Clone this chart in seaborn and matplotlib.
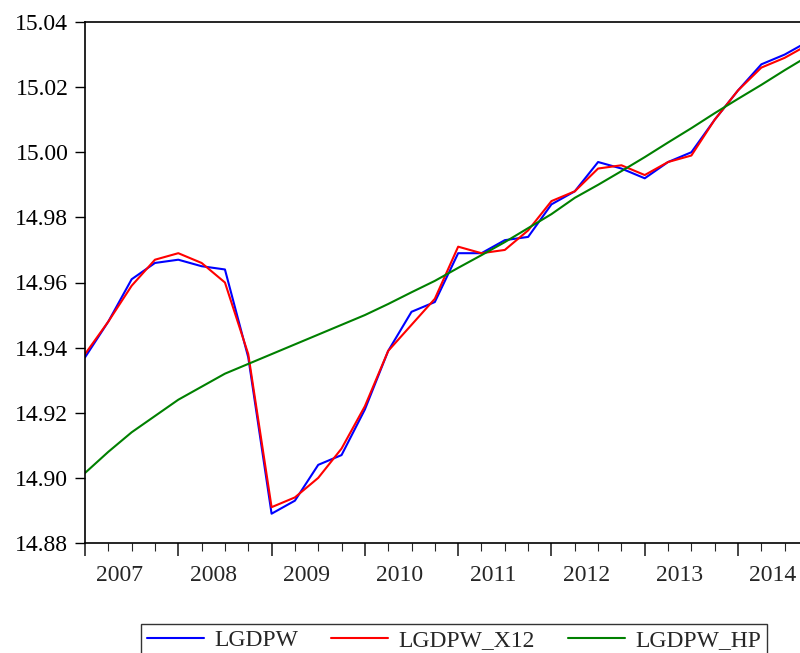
import numpy as np
import pandas as pd
import matplotlib
matplotlib.use('Agg')
import matplotlib.pyplot as plt
import seaborn as sns

# quarterly data 2007Q1 - 2014Q4
years = [2007, 2008, 2009, 2010, 2011, 2012, 2013, 2014]
lgdpw = [14.937, 14.948, 14.961, 14.966, 14.967, 14.965, 14.964, 14.937,
         14.889, 14.893, 14.904, 14.907, 14.921, 14.939, 14.951, 14.954,
         14.969, 14.969, 14.973, 14.974, 14.984, 14.988, 14.997, 14.995,
         14.992, 14.997, 15.000, 15.010, 15.019, 15.027, 15.030, 15.034]
lgdpw_x12 = [14.938, 14.948, 14.959, 14.967, 14.969, 14.966, 14.960, 14.938,
             14.891, 14.894, 14.900, 14.909, 14.922, 14.939, 14.947, 14.955,
             14.971, 14.969, 14.970, 14.976, 14.985, 14.988, 14.995, 14.996,
             14.993, 14.997, 14.999, 15.010, 15.019, 15.026, 15.029, 15.033]
lgdpw_hp = [14.9015, 14.908, 14.914, 14.919, 14.924, 14.928, 14.932, 14.935,
            14.938, 14.941, 14.944, 14.947, 14.950, 14.9534, 14.957, 14.9605,
            14.9645, 14.9684, 14.9724, 14.9767, 14.981, 14.986, 14.990, 14.9942,
            14.9985, 15.003, 15.0074, 15.012, 15.0164, 15.0207, 15.0252, 15.0295]

n = len(lgdpw)
idx = np.arange(n)
df = pd.DataFrame({
    't': np.tile(idx, 3),
    'value': lgdpw + lgdpw_x12 + lgdpw_hp,
    'series': ['LGDPW'] * n + ['LGDPW_X12'] * n + ['LGDPW_HP'] * n,
})

sns.set_style('ticks')
plt.rcParams['font.family'] = ['Liberation Serif', 'DejaVu Serif']
plt.rcParams['font.size'] = 17

fig = plt.figure(figsize=(8, 6.53), dpi=100)
ax = fig.add_axes([85 / 800, 1 - 543 / 653, (808 - 85) / 800, 521 / 653])

sns.lineplot(data=df, x='t', y='value', hue='series',
             palette={'LGDPW': '#0000ff', 'LGDPW_X12': '#ff0000', 'LGDPW_HP': '#008000'},
             linewidth=1.5, ax=ax, legend=False)

ax.set_xlim(0, n - 1)
ax.set_ylim(14.88, 15.04)
ax.set_yticks(np.arange(14.88, 15.041, 0.02))
ax.set_yticklabels([f'{v:.2f}' for v in np.arange(14.88, 15.041, 0.02)], fontsize=17)
ax.tick_params(axis='y', length=7, width=1, pad=5, colors='black')

# year ticks (long) and quarter ticks (short)
ax.set_xticks(idx[::4])
ax.set_xticklabels([])
ax.set_xticks(idx, minor=True)
ax.tick_params(axis='x', which='major', length=9, width=1.2, direction='out')
ax.tick_params(axis='x', which='minor', length=6, width=0.8, direction='out')
ax.set_xlabel('')
ax.set_ylabel('')

sec = ax.secondary_xaxis('bottom')
sec.set_xticks(idx[::4] + 1.5)
sec.set_xticklabels([str(y) for y in years], fontsize=17)
sec.tick_params(length=0, pad=16)
sec.spines['bottom'].set_visible(False)

for s in ['left', 'bottom', 'top', 'right']:
    ax.spines[s].set_visible(True)
    ax.spines[s].set_color('black')
    ax.spines[s].set_linewidth(1.2)

handles = [plt.Line2D([], [], color=c, lw=1.5) for c in ['#0000ff', '#ff0000', '#008000']]
leg = fig.legend(handles, ['LGDPW', 'LGDPW_X12', 'LGDPW_HP'], ncol=3,
                 loc='upper center', bbox_to_anchor=(454 / 800, 1 - 612 / 653),
                 frameon=True, fancybox=False, fontsize=17, handlelength=2.4,
                 handletextpad=0.45, columnspacing=1.4, borderpad=0.25)
leg.get_frame().set_edgecolor('black')
leg.get_frame().set_linewidth(1.0)

fig.savefig('out.png', dpi=100)
